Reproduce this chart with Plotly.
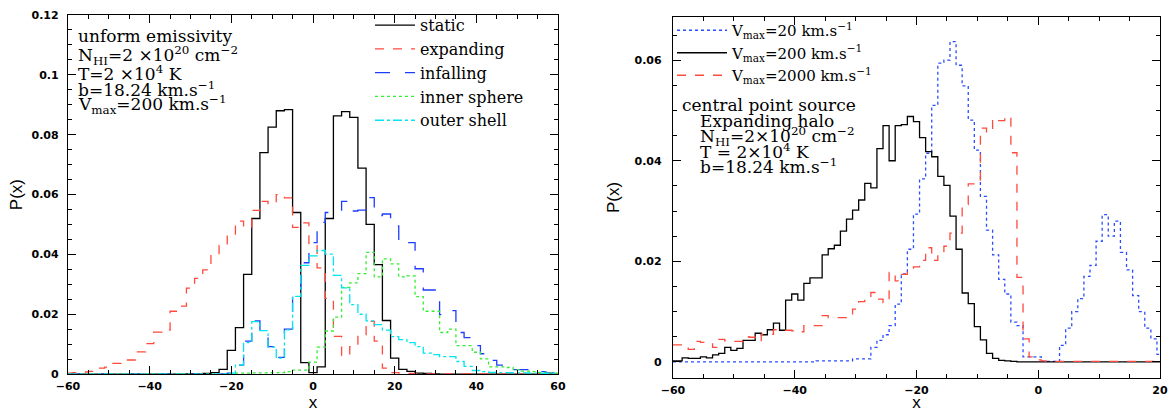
import plotly.graph_objects as go

# ---------------- Left panel data (bin centres, width 2) ----------------
x_left = list(range(-60, 61, 2))

static = [0, 0, 0, 0, 0, 0, 0, 0, 0, 0,
          0, 0, 0, 0, 0, 0.0001, 0.0001, 0.0002, 0.0005, 0.0016,
          0.0079, 0.0155, 0.0333, 0.052, 0.074, 0.0825, 0.088, 0.0884, 0.054, 0.0038,
          0.0005,
          0.0024, 0.052, 0.0863, 0.0877, 0.0858, 0.0688, 0.050, 0.0366, 0.0179, 0.0053,
          0.0016, 0.0009, 0.0003, 0.0002, 0.0001, 0, 0, 0, 0, 0,
          0, 0, 0, 0, 0, 0, 0, 0, 0, 0]

expanding = [0.0003, 0.0005, 0.0007, 0.0009, 0.002, 0.0023, 0.0036, 0.0047, 0.0047, 0.0074,
             0.0102, 0.014, 0.0147, 0.021, 0.0227, 0.0287, 0.032, 0.0348, 0.0398, 0.043,
             0.0468, 0.0511, 0.049, 0.0547, 0.0577, 0.057, 0.060, 0.0589, 0.049, 0.0505,
             0.043,
             0.0355, 0.0253, 0.0126, 0.0062, 0.0092, 0.0131, 0.0176, 0.011, 0.002, 0.0005,
             0.0003, 0.0002, 0.0001, 0.0001, 0.0001, 0.0001, 0.0001, 0.0001, 0.0001, 0.0001,
             0.0001, 0.0001, 0.0001, 0.0001, 0.0001, 0.0001, 0.0001, 0.0001, 0.0001, 0.0001]

infalling = [0, 0, 0, 0, 0, 0, 0, 0, 0, 0,
             0, 0, 0, 0, 0, 0, 0, 0, 0.0001, 0.0001,
             0.0003, 0.003, 0.011, 0.0178, 0.0148, 0.0092, 0.0056, 0.015, 0.0265, 0.0372,
             0.0439,
             0.0507, 0.054, 0.0545, 0.0577, 0.0545, 0.0548, 0.059, 0.053, 0.0535, 0.0495,
             0.0434, 0.0439, 0.0352, 0.0281, 0.0281, 0.0199, 0.0212, 0.0139, 0.0122, 0.0095,
             0.0068, 0.0046, 0.003, 0.003, 0.0015, 0.0015, 0.0008, 0.0008, 0.0004, 0.0002]

inner_sphere = [0, 0, 0, 0, 0, 0, 0, 0, 0, 0,
                0, 0, 0, 0, 0, 0, 0, 0, 0, 0.0001,
                0.0002, 0.0003, 0.0003, 0.0004, 0.0004, 0.0005, 0.0005, 0.0008, 0.0013, 0.0013,
                0.004,
                0.009, 0.0144, 0.019, 0.029, 0.0305, 0.0336, 0.0407, 0.0325, 0.0385, 0.0368,
                0.0325, 0.0328, 0.0259, 0.021, 0.021, 0.0139, 0.015, 0.0095, 0.0095, 0.0073,
                0.0051, 0.0024, 0.0024, 0.0022, 0.0015, 0.001, 0.0008, 0.0006, 0.0004, 0.0003]

outer_shell = [0, 0, 0, 0, 0, 0, 0, 0, 0, 0,
               0, 0, 0, 0, 0, 0, 0, 0, 0, 0.0001,
               0.0003, 0.003, 0.0105, 0.0175, 0.0145, 0.009, 0.0053, 0.0148, 0.026, 0.0363,
               0.0395,
               0.0413, 0.0401, 0.033, 0.0288, 0.0232, 0.0200, 0.0178, 0.0165, 0.0147, 0.0125,
               0.0115, 0.0105, 0.0092, 0.007, 0.0065, 0.0058, 0.0058, 0.0042, 0.0026, 0.0012,
               0.0008, 0.0006, 0.0005, 0.0005, 0.0004, 0.0004, 0.0003, 0.0002, 0.0002, 0.0001]

# ---------------- Right panel data (bin centres, width 1) ----------------
x_right = list(range(-60, 21, 1))

vmax20 = [0, 0, 0, 0, 0, 0, 0, 0, 0, 0,
          0, 0, 0, 0, 0, 0, 0, 0, 0, 0,
          0, 0, 0, 0, 0.0002, 0.0002, 0.0002, 0.0002, 0.0002, 0.0002,
          0.0006, 0.0006, 0.0006, 0.0029, 0.0043, 0.0054, 0.0072, 0.0115, 0.0175, 0.0224,
          0.0294, 0.0364, 0.0415, 0.051, 0.0594, 0.0600, 0.0637, 0.059, 0.0549, 0.0481,
          0.0421, 0.0329, 0.0262, 0.0213, 0.0164, 0.0135, 0.0079, 0.0072, 0.001, 0.001,
          0.001, 0.0001, 0.0001, 0.0001, 0.0033, 0.0067, 0.01, 0.0126, 0.017, 0.0192,
          0.024, 0.0293, 0.025, 0.028, 0.0218, 0.0183, 0.0132, 0.01, 0.0067, 0.0046,
          0.0015]

vmax200 = [0.0002, 0.0002, 0.0008, 0.0007, 0.0007, 0.001, 0.0008, 0.0014, 0.0017, 0.0029,
           0.0023, 0.0027, 0.0043, 0.0043, 0.0057, 0.0054, 0.0064, 0.0077, 0.0063, 0.0123,
           0.0135, 0.0123, 0.0156, 0.0167, 0.0167, 0.0213, 0.0225, 0.0232, 0.026, 0.0284,
           0.0302, 0.0322, 0.0355, 0.0346, 0.0424, 0.047, 0.040, 0.047, 0.0472, 0.0488,
           0.0478, 0.0446, 0.0418, 0.0408, 0.0369, 0.0351, 0.029, 0.0224, 0.0137, 0.0116,
           0.007, 0.0044, 0.0017, 0.0007, 0.0003, 0.0002, 0.0001, 0, 0, 0,
           0, 0, 0, 0, 0, 0, 0, 0, 0, 0,
           0, 0, 0, 0, 0, 0, 0, 0, 0, 0,
           0]

vmax2000 = [0.0034, 0.0034, 0.0033, 0.0025, 0.0041, 0.0039, 0.0038, 0.0029, 0.0045, 0.0042,
            0.0041, 0.0041, 0.005, 0.0049, 0.0041, 0.0055, 0.0055, 0.0064, 0.0064, 0.0063,
            0.0062, 0.006, 0.0072, 0.0072, 0.0072, 0.0092, 0.0088, 0.0088, 0.0088, 0.0094,
            0.0105, 0.012, 0.0126, 0.0138, 0.0125, 0.0118, 0.0178, 0.0161, 0.0174, 0.018,
            0.0189, 0.0202, 0.0227, 0.0202, 0.0211, 0.023, 0.0256, 0.0256, 0.0313, 0.0354,
            0.0354, 0.0465, 0.0457, 0.0484, 0.048, 0.0488, 0.0416, 0.0168, 0.0046, 0.001,
            0.0004, 0.0002, 0.0001, 0.0001, 0.0001, 0.0001, 0.0001, 0.0001, 0.0001, 0.0001,
            0.0001, 0.0001, 0.0001, 0.0001, 0.0001, 0.0001, 0.0001, 0.0001, 0.0001, 0.0001,
            0.0001]

TEXT_FONT = "DejaVu Serif"
TICK_FONT = dict(family="DejaVu Sans", size=11, color="black", weight="bold")
TITLE_FONT = dict(family="Liberation Sans", size=17, color="black")

fig = go.Figure()

left_series = [
    ("static", static, "#000000", "solid"),
    ("expanding", expanding, "#ff4a3e", "dash"),
    ("infalling", infalling, "#1e3cff", "longdash"),
    ("inner sphere", inner_sphere, "#33ee33", "dot"),
    ("outer shell", outer_shell, "#00e5f0", "dashdot"),
]
for name, ys, col, dash in left_series:
    fig.add_trace(go.Scatter(x=x_left, y=ys, mode="lines", name=name,
                             line=dict(color=col, width=1.3, dash=dash, shape="hvh"),
                             xaxis="x", yaxis="y", legend="legend"))

right_series = [
    ("V<sub>max</sub>=20 km.s<sup>−1</sup>", vmax20, "#2a4dff", "dot"),
    ("V<sub>max</sub>=200 km.s<sup>−1</sup>", vmax200, "#000000", "solid"),
    ("V<sub>max</sub>=2000 km.s<sup>−1</sup>", vmax2000, "#ff4a3e", "dash"),
]
for name, ys, col, dash in right_series:
    fig.add_trace(go.Scatter(x=x_right, y=ys, mode="lines", name=name,
                             line=dict(color=col, width=1.3, dash=dash, shape="hvh"),
                             xaxis="x2", yaxis="y2", legend="legend2"))

W, H = 1170, 412
ML, MR, MT, MB = 68, 10, 8, 34
PW, PH = W - ML - MR, H - MT - MB


def px(x):
    return (x - ML) / PW


def py(y):
    return (H - MB - y) / PH


axis_common = dict(showline=True, linewidth=1.3, linecolor="black", mirror="ticks",
                   ticks="inside", ticklen=8, tickwidth=1, tickcolor="black",
                   showgrid=False, zeroline=False, tickfont=TICK_FONT,
                   automargin=False)
minor_x = dict(ticks="inside", dtick=5, ticklen=4, tickcolor="black")
minor_y = dict(ticks="inside", dtick=0.005, ticklen=4, tickcolor="black")

fig.update_layout(
    width=W, height=H,
    margin=dict(l=ML, r=MR, t=MT, b=MB),
    paper_bgcolor="white", plot_bgcolor="white",
    template="none",
    xaxis=dict(domain=[0, px(558)], range=[-60, 60], tick0=-60, dtick=20,
               minor=minor_x, anchor="y", ticklabelstandoff=2,
               title=dict(text="x", font=TITLE_FONT, standoff=2),
               **axis_common),
    yaxis=dict(domain=[py(374), 1], range=[0, 0.12], tick0=0, dtick=0.02,
               minor=minor_y, anchor="x", ticklabelstandoff=6,
               title=dict(text="P(x)", font=TITLE_FONT, standoff=4),
               **axis_common),
    xaxis2=dict(domain=[px(673), 1], range=[-60, 20], tick0=-60, dtick=20,
                minor=minor_x, anchor="y2", ticklabelstandoff=2,
                title=dict(text="x", font=TITLE_FONT, standoff=4),
                **axis_common),
    yaxis2=dict(domain=[0, py(10)], range=[-0.0032, 0.0686], tick0=0, dtick=0.02,
                minor=minor_y, anchor="x2", ticklabelstandoff=8,
                title=dict(text="P(x)", font=TITLE_FONT, standoff=10),
                **axis_common),
    legend=dict(x=px(370), y=py(1), xanchor="left", yanchor="top",
                bgcolor="rgba(0,0,0,0)", borderwidth=0, tracegroupgap=0,
                itemwidth=40,
                font=dict(family=TEXT_FONT, size=16, color="black")),
    legend2=dict(x=px(672), y=py(7), xanchor="left", yanchor="top",
                 bgcolor="rgba(0,0,0,0)", borderwidth=0, tracegroupgap=0,
                 itemwidth=50,
                 font=dict(family=TEXT_FONT, size=15, color="black")),
    showlegend=True,
)

left_text = [
    ("unform emissivity", 29),
    ("N<sub>HI</sub>=2 ×10<sup>20</sup> cm<sup>−2</sup>", 49),
    ("T=2 ×10<sup>4</sup> K", 67),
    ("b=18.24 km.s<sup>−1</sup>", 83),
    ("V<sub>max</sub>=200 km.s<sup>−1</sup>", 99),
]
for txt, yy in left_text:
    fig.add_annotation(x=px(76), y=py(yy), xref="paper", yref="paper", text=txt,
                       showarrow=False, xanchor="left", yanchor="middle",
                       font=dict(family=TEXT_FONT, size=17, color="black"))

right_text = [
    ("central point source", 680, 100),
    ("Expanding halo", 698, 116),
    ("N<sub>HI</sub>=2×10<sup>20</sup> cm<sup>−2</sup>", 698, 132),
    ("T = 2×10<sup>4</sup> K", 698, 147),
    ("b=18.24 km.s<sup>−1</sup>", 698, 162),
]
for txt, xx, yy in right_text:
    fig.add_annotation(x=px(xx), y=py(yy), xref="paper", yref="paper", text=txt,
                       showarrow=False, xanchor="left", yanchor="middle",
                       font=dict(family=TEXT_FONT, size=17, color="black"))

fig.write_html("out.html")
